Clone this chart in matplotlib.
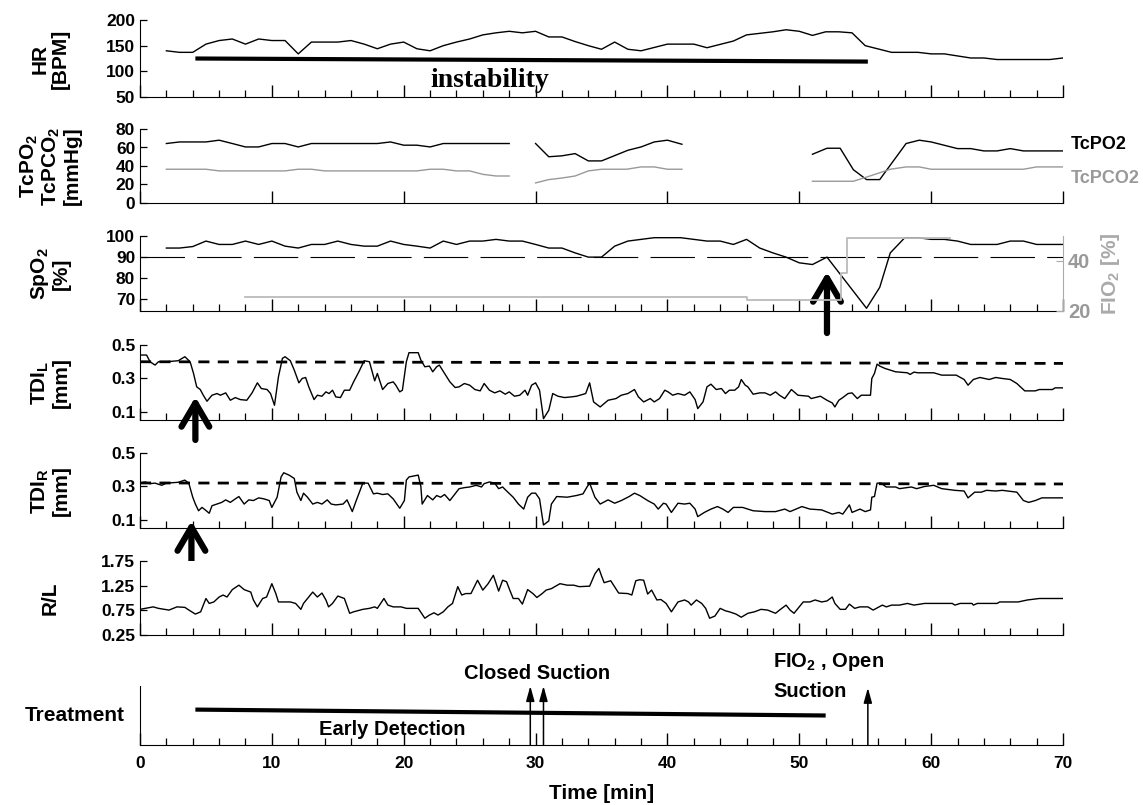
import matplotlib.pyplot as plt
from matplotlib.ticker import MultipleLocator, NullLocator
import numpy as np

plt.rcParams['font.family'] = ['Liberation Sans', 'DejaVu Sans']
plt.rcParams['font.weight'] = 'bold'
plt.rcParams['axes.labelweight'] = 'bold'
plt.rcParams['mathtext.fontset'] = 'custom'
plt.rcParams['mathtext.rm'] = 'Liberation Sans:bold'
plt.rcParams['mathtext.bf'] = 'Liberation Sans:bold'
plt.rcParams['mathtext.default'] = 'bf'

nan = np.nan

# heart rate (BPM)
hr_t = [2, 3, 4, 5, 6, 7, 8, 9, 10, 11, 12, 13, 14, 15, 16, 17, 18, 19, 20, 21, 22, 23, 24, 25,
        26, 27, 28, 29, 30, 31, 32, 33, 34, 35, 36, 37, 38, 40, 42, 43, 45, 46, 48, 49, 50, 51,
        52, 53, 54, 55, 57, 59, 60, 61, 63, 64, 65, 69, 70]
hr_v = [140, 137, 137, 153, 160, 163, 153, 163, 160, 160, 134, 157, 157, 157, 160, 153, 144, 153,
        157, 144, 140, 150, 157, 163, 171, 175, 178, 175, 178, 167, 167, 158, 150, 143, 157, 143,
        140, 153, 153, 146, 159, 171, 177, 181, 178, 170, 177, 177, 175, 150, 137, 137, 134, 134,
        126, 126, 123, 123, 126]
instab_t = [4.2, 55.2]
instab_v = [125, 119]

# transcutaneous gases (mmHg), nan = gap in recording
tcpo2_t = [2, 3, 5, 6, 7, 8, 9, 10, 11, 12, 13, 18, 19, 20, 21, 22, 23, 28, 29,
           30, 31, 32, 33, 34, 35, 37, 38, 39, 40, 41.1, 46,
           51, 52.1, 53.1, 54.1, 55.1, 56.1, 58.1, 59.1, 60, 62, 63, 64, 65, 66, 67, 70]
tcpo2_v = [64.3, 66, 66, 67.9, 64.3, 60.6, 60.6, 64.3, 64.3, 60.6, 64.3, 64.3, 66, 62.5, 62.5,
           60.6, 64.3, 64.3, nan,
           64.3, 50, 51, 53.4, 45.5, 45.5, 57, 60.6, 66, 67.9, 63.5, nan,
           52.7, 59.2, 59.2, 36, 25.3, 25.3, 64.3, 67.9, 66, 58.8, 58.8, 56.3, 56.3, 58.8, 56.3, 56.3]
tcpco2_t = [2, 5, 6, 11, 12, 13, 14, 21, 22, 23, 24, 25, 26, 27, 28, 29,
            30, 31, 32, 33, 34, 35, 36.9, 38, 39, 40, 41.1, 46,
            51, 54.1, 55.1, 56.9, 58.1, 59.1, 60, 67, 68, 70]
tcpco2_v = [36.5, 36.5, 34.7, 34.7, 36.5, 36.5, 34.7, 34.7, 36.5, 36.5, 34.7, 34.7, 31, 29.2, 29.2, nan,
            21.7, 25.3, 27, 29.2, 34.7, 36.5, 36.5, 39, 39, 36.5, 36.5, nan,
            23.5, 23.5, 28, 36.5, 39, 39, 36.5, 36.5, 39, 39]

# oxygen saturation (%) and inspired oxygen fraction (%)
spo2_t = [2, 3, 4, 5, 6, 7, 8, 9, 10, 11, 12, 13, 14, 15, 16, 17, 18, 19, 20, 21, 22, 23, 24, 25,
          26, 27, 28, 29, 30, 31, 32, 33, 34, 35, 36, 37, 38, 39, 41, 43, 44, 45, 46, 47, 48, 49,
          50, 51, 52.1, 55.1, 56.1, 56.9, 58, 59, 60, 61, 62, 63, 65, 66, 67, 68, 70]
spo2_v = [94.3, 94.3, 95, 97.6, 96, 96, 97.6, 96, 97.6, 95.2, 94.3, 96, 96, 97.6, 96, 95.2, 95.2,
          97.6, 96, 95.2, 94.3, 97.6, 96, 97.6, 97.6, 98.4, 97.6, 97.6, 96, 94.3, 94.3, 92, 90, 90,
          95.2, 97.6, 98.4, 99.2, 99.2, 97.6, 97.6, 96, 98.4, 94.3, 92, 90, 87.3, 86.5, 90, 65.8,
          75.7, 92, 99.2, 99.2, 98.4, 98.4, 97.6, 96, 96, 97.6, 97.6, 96, 96]
fio2_t = [8, 46, 53.2, 53.6, 61.4]
fio2_v = [25.4, 24.4, 35, 49.3, 49.3]
spo2_limit = 90

# diaphragm displacement, left (mm)
tdil_t = [0, 0.5, 0.76, 1.14, 1.4, 2.0, 2.9, 3.4, 3.8, 4.06, 4.3, 4.57, 4.8, 5.08, 5.46, 5.84, 6.1,
          6.5, 6.85, 7.23, 7.6, 8.1, 8.5, 8.9, 9.2, 9.64, 9.9, 10.2, 10.5, 10.8, 11.0, 11.4, 11.7,
          12.05, 12.3, 12.56, 12.8, 13.2, 13.45, 13.8, 14.1, 14.34, 14.6, 14.85, 15.2, 15.5, 15.9,
          16.2, 16.6, 17.0, 17.4, 17.8, 18.0, 18.4, 18.8, 19.2, 19.4, 19.7, 19.9, 20.2, 20.4, 21.1,
          21.3, 21.6, 21.95, 22.2, 22.5, 22.7, 23.1, 23.5, 23.9, 24.2, 24.6, 25.0, 25.4, 25.8, 26.1,
          26.5, 26.9, 27.3, 27.7, 28.0, 28.4, 28.8, 29.2, 29.4, 29.7, 30.0, 30.3, 30.6, 31.0, 31.3,
          31.7, 32.2, 32.7, 33.1, 33.8, 34.1, 34.4, 34.9, 35.5, 36.1, 36.5, 37.0, 37.5, 37.8, 38.2,
          38.7, 39.0, 39.4, 39.8, 40.05, 40.4, 40.8, 41.3, 41.7, 42.1, 42.3, 42.7, 43.0, 43.3, 43.7,
          44.1, 44.4, 44.7, 45.1, 45.4, 45.6, 45.9, 46.1, 46.5, 47.0, 47.4, 47.8, 48.2, 48.5, 48.9,
          49.4, 49.9, 50.7, 50.9, 51.6, 52.1, 52.5, 52.7, 53.0, 53.3, 53.7, 54.0, 54.4, 54.7, 55.4,
          55.5, 55.7, 55.9, 56.1, 56.5, 57.3, 58.2, 58.4, 58.7, 59.0, 60.2, 60.8, 61.9, 62.5, 62.8,
          63.2, 63.7, 64.4, 64.9, 65.4, 66.0, 66.5, 67.1, 67.9, 68.2, 69.2, 69.4, 70.0]
tdil_v = [0.44, 0.44, 0.40, 0.38, 0.40, 0.40, 0.406, 0.43, 0.40, 0.33, 0.25, 0.234, 0.20, 0.164,
          0.20, 0.21, 0.20, 0.214, 0.17, 0.186, 0.174, 0.17, 0.214, 0.274, 0.24, 0.234, 0.21, 0.14,
          0.31, 0.42, 0.43, 0.406, 0.35, 0.274, 0.30, 0.306, 0.25, 0.174, 0.20, 0.194, 0.22, 0.21,
          0.23, 0.19, 0.186, 0.23, 0.23, 0.28, 0.34, 0.406, 0.40, 0.286, 0.33, 0.234, 0.27, 0.28,
          0.26, 0.22, 0.23, 0.40, 0.454, 0.454, 0.41, 0.37, 0.374, 0.34, 0.37, 0.38, 0.33, 0.28,
          0.246, 0.25, 0.27, 0.26, 0.234, 0.226, 0.27, 0.23, 0.214, 0.226, 0.206, 0.22, 0.194, 0.20,
          0.23, 0.20, 0.26, 0.274, 0.23, 0.06, 0.11, 0.21, 0.194, 0.186, 0.19, 0.194, 0.21, 0.274,
          0.16, 0.13, 0.17, 0.18, 0.20, 0.21, 0.234, 0.19, 0.16, 0.18, 0.16, 0.18, 0.23, 0.22, 0.20,
          0.21, 0.20, 0.22, 0.174, 0.12, 0.16, 0.25, 0.266, 0.234, 0.24, 0.21, 0.23, 0.23, 0.25,
          0.294, 0.26, 0.25, 0.206, 0.214, 0.214, 0.20, 0.22, 0.20, 0.18, 0.234, 0.20, 0.194, 0.18,
          0.194, 0.17, 0.154, 0.13, 0.17, 0.186, 0.21, 0.214, 0.18, 0.20, 0.20, 0.30, 0.33, 0.386,
          0.374, 0.36, 0.34, 0.334, 0.324, 0.338, 0.334, 0.334, 0.32, 0.32, 0.294, 0.26, 0.294,
          0.306, 0.294, 0.306, 0.30, 0.294, 0.27, 0.226, 0.226, 0.234, 0.234, 0.244, 0.244]
tdil_base_t = [0, 70]
tdil_base_v = [0.40, 0.39]

# diaphragm displacement, right (mm)
tdir_t = [0, 0.4, 0.76, 1.14, 1.65, 2.0, 2.9, 3.4, 3.7, 4.0, 4.2, 4.44, 4.7, 4.95, 5.25, 5.46, 5.84,
          6.2, 6.5, 6.85, 7.23, 7.5, 7.9, 8.25, 8.6, 9.0, 9.4, 9.8, 10.0, 10.4, 10.7, 10.9, 11.3,
          11.7, 11.9, 12.2, 12.4, 12.7, 13.1, 13.45, 13.8, 14.2, 14.5, 14.85, 15.4, 15.7, 16.1, 16.4,
          16.9, 17.3, 17.7, 18.0, 18.4, 18.8, 19.2, 19.7, 20.05, 20.2, 20.4, 21.1, 21.3, 21.4, 21.8,
          22.2, 22.5, 22.8, 23.1, 23.5, 23.9, 24.2, 24.6, 25.0, 25.5, 25.9, 26.1, 26.5, 26.9, 27.2,
          27.5, 27.9, 28.3, 28.7, 29.1, 29.4, 29.7, 30.0, 30.3, 30.6, 31.0, 31.2, 31.6, 32.4, 33.1,
          33.6, 33.9, 34.1, 34.5, 34.9, 35.5, 36.0, 36.5, 37.1, 37.5, 37.9, 38.5, 39.0, 39.3, 39.7,
          39.9, 40.3, 40.8, 41.3, 41.7, 42.1, 42.3, 42.8, 43.3, 43.8, 44.2, 44.6, 45.0, 45.7, 46.5,
          47.4, 48.2, 48.9, 49.3, 50.2, 50.8, 51.7, 52.5, 53.0, 53.3, 53.8, 54.0, 54.6, 55.0, 55.4,
          55.5, 55.7, 55.9, 56.2, 56.6, 57.3, 57.6, 58.5, 58.9, 59.5, 60.2, 60.8, 61.8, 62.5, 62.8,
          63.3, 63.8, 64.2, 64.9, 65.4, 66.5, 67.0, 67.4, 67.9, 68.4, 70.0]
tdir_v = [0.321, 0.327, 0.317, 0.32, 0.307, 0.32, 0.325, 0.338, 0.32, 0.236, 0.195, 0.155, 0.175,
          0.16, 0.14, 0.185, 0.195, 0.205, 0.22, 0.205, 0.226, 0.24, 0.195, 0.22, 0.216, 0.232,
          0.226, 0.216, 0.175, 0.236, 0.357, 0.382, 0.368, 0.348, 0.266, 0.216, 0.26, 0.236, 0.195,
          0.205, 0.195, 0.22, 0.195, 0.19, 0.195, 0.22, 0.15, 0.216, 0.32, 0.32, 0.256, 0.26, 0.252,
          0.256, 0.226, 0.17, 0.216, 0.338, 0.357, 0.368, 0.30, 0.195, 0.246, 0.22, 0.246, 0.236,
          0.252, 0.216, 0.256, 0.287, 0.293, 0.297, 0.307, 0.297, 0.317, 0.327, 0.32, 0.287, 0.297,
          0.266, 0.236, 0.195, 0.165, 0.236, 0.26, 0.26, 0.226, 0.07, 0.094, 0.195, 0.24, 0.236,
          0.246, 0.256, 0.297, 0.32, 0.236, 0.195, 0.22, 0.20, 0.216, 0.24, 0.26, 0.246, 0.216,
          0.195, 0.165, 0.20, 0.195, 0.145, 0.20, 0.195, 0.20, 0.165, 0.12, 0.145, 0.165, 0.18,
          0.165, 0.145, 0.175, 0.175, 0.155, 0.15, 0.15, 0.165, 0.15, 0.18, 0.165, 0.16, 0.135,
          0.145, 0.135, 0.19, 0.145, 0.165, 0.15, 0.16, 0.236, 0.24, 0.32, 0.32, 0.297, 0.297,
          0.287, 0.297, 0.287, 0.30, 0.307, 0.287, 0.277, 0.273, 0.232, 0.266, 0.266, 0.277, 0.273,
          0.277, 0.266, 0.216, 0.205, 0.216, 0.232, 0.232]
tdir_base_t = [0, 70]
tdir_base_v = [0.321, 0.315]

# right / left ratio
rl_t = [0, 0.4, 1.0, 1.4, 2.2, 2.8, 3.4, 3.8, 4.2, 4.6, 4.8, 5.0, 5.25, 5.6, 6.0, 6.3, 6.6, 7.0,
        7.5, 7.9, 8.4, 8.6, 8.9, 9.3, 9.6, 10.0, 10.3, 10.5, 10.9, 11.4, 11.8, 12.2, 12.4, 12.8,
        13.1, 13.45, 13.8, 14.1, 14.3, 14.6, 15.0, 15.5, 15.9, 16.2, 16.9, 17.4, 17.8, 18.0, 18.5,
        18.8, 19.2, 19.8, 20.2, 21.1, 21.6, 21.95, 22.3, 22.6, 23.0, 23.35, 23.7, 24.1, 24.4, 24.7,
        25.1, 25.6, 26.0, 26.4, 26.8, 27.2, 27.5, 27.8, 28.0, 28.3, 28.7, 29.0, 29.4, 29.8, 30.1,
        30.5, 30.8, 31.2, 31.85, 32.4, 32.9, 33.3, 34.1, 34.5, 34.8, 35.0, 35.2, 35.7, 36.3, 37.0,
        37.3, 37.6, 37.9, 38.2, 38.5, 38.8, 39.2, 39.5, 39.9, 40.3, 40.8, 41.3, 41.6, 41.8, 42.2,
        42.6, 42.9, 43.2, 43.6, 44.0, 44.4, 44.7, 45.2, 45.6, 46.1, 46.6, 47.1, 47.6, 48.2, 48.5,
        49.0, 49.3, 49.6, 50.0, 50.3, 50.8, 51.2, 51.7, 52.1, 52.5, 52.7, 53.1, 53.5, 53.8, 54.2,
        54.6, 55.2, 55.6, 56.3, 56.6, 57.0, 57.6, 58.2, 58.7, 59.5, 61.6, 61.8, 62.2, 63.1, 63.2,
        63.5, 65.0, 65.2, 66.6, 67.3, 68.2, 70.0]
rl_v = [0.77, 0.79, 0.82, 0.79, 0.755, 0.82, 0.81, 0.74, 0.674, 0.72, 0.856, 0.99, 0.89, 0.92,
        1.02, 1.06, 1.02, 1.17, 1.26, 1.17, 1.12, 0.96, 0.82, 0.99, 1.02, 1.29, 1.09, 0.92, 0.92,
        0.92, 0.89, 0.77, 0.89, 1.02, 1.12, 1.02, 1.10, 0.96, 0.82, 0.89, 1.04, 0.99, 0.69, 0.72,
        0.77, 0.79, 0.82, 0.79, 0.99, 0.856, 0.82, 0.82, 0.79, 0.79, 0.59, 0.654, 0.70, 0.654, 0.72,
        0.82, 0.89, 1.23, 1.06, 1.09, 1.09, 1.36, 1.16, 1.29, 1.46, 1.14, 1.36, 1.33, 1.19, 0.99,
        0.99, 0.876, 1.17, 1.09, 1.01, 1.09, 1.16, 1.19, 1.29, 1.26, 1.26, 1.23, 1.24, 1.49, 1.60,
        1.45, 1.31, 1.35, 1.10, 1.09, 1.06, 1.35, 1.37, 1.36, 1.08, 1.16, 0.96, 0.97, 0.89, 0.72,
        0.92, 0.96, 0.92, 0.856, 0.96, 0.89, 0.79, 0.59, 0.634, 0.79, 0.74, 0.72, 0.674, 0.61, 0.69,
        0.72, 0.77, 0.755, 0.69, 0.755, 0.856, 0.755, 0.69, 0.82, 0.92, 0.92, 0.96, 0.92, 0.94,
        1.02, 0.89, 0.77, 0.77, 0.876, 0.79, 0.82, 0.82, 0.755, 0.856, 0.82, 0.856, 0.856, 0.89,
        0.856, 0.89, 0.89, 0.856, 0.89, 0.89, 0.856, 0.89, 0.89, 0.92, 0.92, 0.96, 0.99, 0.99]

# treatment events
early_t = [4.2, 52.0]
early_v = [0.6, 0.5]
closed_suction_t = [29.6, 30.6]
open_suction_t = 55.2
detect_arrow_t = [52.1, 4.2, 3.9]     # SpO2, TDI_L, TDI_R
detect_arrow_v = [83, 0.19, 0.094]

# layout: panel (top, bottom) in pixels of the 1143x805 picture
W, H = 1143, 805
x0, x1 = 140, 1063
rows = [(20, 97), (129, 203), (236, 311), (345, 420), (453, 528), (561, 635), (686, 745)]

fig = plt.figure(figsize=(W / 100, H / 100), dpi=100)
axes = []
for top, bot in rows:
    ax = fig.add_axes([x0 / W, 1 - bot / H, (x1 - x0) / W, (bot - top) / H])
    ax.set_xlim(0, 70)
    for s in ['top', 'right']:
        ax.spines[s].set_visible(False)
    ax.xaxis.set_major_locator(MultipleLocator(10))
    ax.xaxis.set_minor_locator(MultipleLocator(2))
    ax.tick_params(axis='x', which='major', direction='in', length=9, width=1, labelbottom=False)
    ax.tick_params(axis='x', which='minor', direction='in', length=5, width=0.9)
    ax.tick_params(axis='y', which='major', direction='in', length=5, width=0.9, labelsize=12.5)
    axes.append(ax)
ax_hr, ax_tc, ax_sp, ax_tl, ax_tr, ax_rl, ax_tx = axes

lab_fs = 15
lab_x = -0.0975


def side_label(ax, txt):
    ax.text(lab_x, 0.5, txt, transform=ax.transAxes, rotation=90, fontsize=lab_fs,
            ha='center', va='center', multialignment='center', linespacing=1.05)


# HR
ax_hr.plot(hr_t, hr_v, color='black', lw=1.0)
ax_hr.plot(instab_t, instab_v, color='black', lw=3.0, solid_capstyle='butt')
ax_hr.text(26.5, 83, 'instability', family='Liberation Serif', fontsize=20, weight='bold',
           ha='center', va='center')
ax_hr.set_ylim(50, 200)
ax_hr.set_yticks([50, 100, 150, 200])
side_label(ax_hr, 'HR\n[BPM]')

# TcPO2 / TcPCO2
ax_tc.plot(tcpo2_t, tcpo2_v, color='black', lw=1.0)
ax_tc.plot(tcpco2_t, tcpco2_v, color='#999999', lw=1.0)
ax_tc.set_ylim(0, 80)
ax_tc.set_yticks([0, 20, 40, 60, 80])
ax_tc.xaxis.set_minor_locator(NullLocator())
ax_tc.text(70.6, 63, 'TcPO2', fontsize=13, ha='left', va='center', color='black')
ax_tc.text(70.6, 27, 'TcPCO2', fontsize=13, ha='left', va='center', color='#999999')
side_label(ax_tc, 'TcPO$_2$\nTcPCO$_2$\n[mmHg]')

# SpO2 + FIO2
ax_sp.plot(spo2_t, spo2_v, color='black', lw=1.0)
ax_sp.axhline(spo2_limit, color='black', lw=0.8, ls=(0, (40, 11)))
ax_sp.set_ylim(64.5, 100)
ax_sp.set_yticks([70, 80, 90, 100])
side_label(ax_sp, 'SpO$_2$\n[%]')
ax_f = ax_sp.twinx()
ax_f.set_xlim(0, 70)
ax_f.plot(fio2_t, fio2_v, color='#bbbbbb', lw=1.3, drawstyle='steps-post')
ax_f.set_ylim(20, 50)
ax_f.set_yticks([20, 40])
for s in ['top', 'left', 'bottom']:
    ax_f.spines[s].set_visible(False)
ax_f.spines['right'].set_color('#aaaaaa')
ax_f.tick_params(axis='y', direction='in', length=5, color='#aaaaaa', labelcolor='#999999',
                 labelsize=14.5)
ax_f.set_ylabel('FIO$_2$ [%]', fontsize=lab_fs, color='#aaaaaa', labelpad=6)

# TDI left / right
ax_tl.plot(tdil_t, tdil_v, color='black', lw=1.0)
ax_tl.plot(tdil_base_t, tdil_base_v, color='black', lw=2.0, ls=(0, (4, 3)))
ax_tl.set_ylim(0.052, 0.5)
ax_tl.set_yticks([0.1, 0.3, 0.5])
side_label(ax_tl, 'TDI$_\\mathregular{L}$\n[mm]')

ax_tr.plot(tdir_t, tdir_v, color='black', lw=1.0)
ax_tr.plot(tdir_base_t, tdir_base_v, color='black', lw=2.0, ls=(0, (4, 3)))
ax_tr.set_ylim(0.052, 0.5)
ax_tr.set_yticks([0.1, 0.3, 0.5])
side_label(ax_tr, 'TDI$_\\mathregular{R}$\n[mm]')

# R/L
ax_rl.plot(rl_t, rl_v, color='black', lw=1.0)
ax_rl.set_ylim(0.25, 1.75)
ax_rl.set_yticks([0.25, 0.75, 1.25, 1.75])
side_label(ax_rl, 'R/L')

# big detection arrows
for ax, t, v, off in zip([ax_sp, ax_tl, ax_tr], detect_arrow_t, detect_arrow_v, [44, 31, 31]):
    ax.annotate('', xy=(t, v), xytext=(0, -off), textcoords='offset points',
                arrowprops=dict(arrowstyle='->,head_length=0.85,head_width=0.5', lw=4.5,
                                color='black', shrinkA=0, shrinkB=0, mutation_scale=20),
                annotation_clip=False)

# treatment panel
ax_tx.set_ylim(0, 1)
ax_tx.set_yticks([])
ax_tx.plot(early_t, early_v, color='black', lw=3.0, solid_capstyle='butt')
ax_tx.text(19.1, 0.27, 'Early Detection', fontsize=14.5, ha='center', va='center')
for t in closed_suction_t:
    ax_tx.annotate('', xy=(t, 1.0), xytext=(t, 0), xycoords='data',
                   arrowprops=dict(arrowstyle='-|>,head_length=0.9,head_width=0.25', lw=1.1,
                                   color='black', shrinkA=0, shrinkB=0))
ax_tx.text(30.1, 1.22, 'Closed Suction', fontsize=14.5, ha='center', va='center')
ax_tx.annotate('', xy=(open_suction_t, 0.97), xytext=(open_suction_t, 0),
               arrowprops=dict(arrowstyle='-|>,head_length=0.9,head_width=0.25', lw=1.1,
                               color='black', shrinkA=0, shrinkB=0))
ax_tx.text(48.0, 1.4, 'FIO$_2$ , Open', fontsize=14.5, ha='left', va='center')
ax_tx.text(48.0, 0.9, 'Suction', fontsize=14.5, ha='left', va='center')
ax_tx.text(-0.016, 0.5, 'Treatment', transform=ax_tx.transAxes, fontsize=lab_fs,
           ha='right', va='center')
ax_tx.tick_params(axis='x', labelbottom=True, labelsize=12.5, pad=8)
ax_tx.set_xticks([0, 10, 20, 30, 40, 50, 60, 70])
ax_tx.set_xlabel('Time [min]', fontsize=lab_fs, labelpad=9)

fig.savefig('out.png', dpi=100)
